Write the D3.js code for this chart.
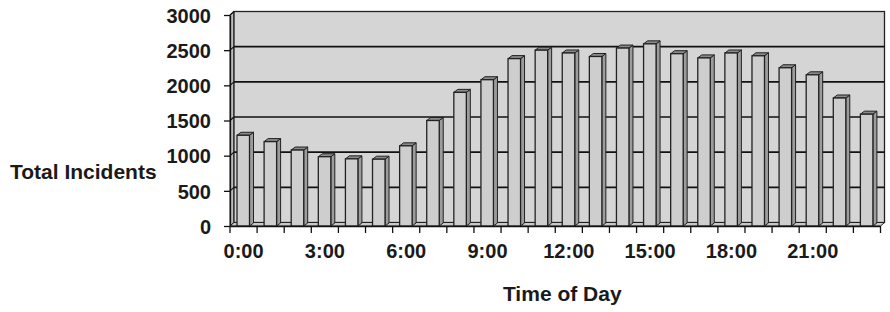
<!DOCTYPE html>
<html>
<head>
<meta charset="utf-8">
<script src="https://cdn.jsdelivr.net/npm/d3@7"></script>
<style>
  html, body { margin: 0; padding: 0; background: #fff; }
  svg text { font-family: "Liberation Sans", Arial, sans-serif; font-weight: bold; fill: #1a1a1a; }
  .axis path, .axis line { stroke: #111; stroke-width: 1.3px; }
</style>
</head>
<body>
<div id="chart"></div>
<script>
const hours = ["0:00", "1:00", "2:00", "3:00", "4:00", "5:00", "6:00", "7:00",
  "8:00", "9:00", "10:00", "11:00", "12:00", "13:00", "14:00", "15:00",
  "16:00", "17:00", "18:00", "19:00", "20:00", "21:00", "22:00", "23:00"];
const incidents = [1290, 1200, 1080, 985, 955, 950, 1140, 1500,
  1900, 2080, 2380, 2500, 2460, 2410, 2530, 2590,
  2450, 2390, 2460, 2420, 2250, 2150, 1820, 1590];
const yTicks = [0, 500, 1000, 1500, 2000, 2500, 3000];
const xLabels = ["0:00", "3:00", "6:00", "9:00", "12:00", "15:00", "18:00", "21:00"];

renderChart();

function renderChart() {
  const W = 890, H = 312;
  const left = 230, right = 880.5, top = 15, bottom = 226;
  const dx = 4, dy = -3.5;      // depth of walls
  const bdx = 4, bdy = -3;      // depth of bars

  const svg = d3.select("#chart").append("svg")
    .attr("width", W).attr("height", H);

  const x = d3.scaleBand().domain(hours).range([left, right]).padding(0);
  const y = d3.scaleLinear().domain([0, 3000]).range([bottom, top]);

  // side wall
  svg.append("polygon")
    .attr("points", [[left, bottom], [left, top], [left + dx, top + dy], [left + dx, bottom + dy]].join(" "))
    .attr("fill", "#bcbcbc").attr("stroke", "#222").attr("stroke-width", 1);

  // back wall
  svg.append("rect")
    .attr("x", left + dx).attr("y", top + dy)
    .attr("width", right - left).attr("height", bottom - top)
    .attr("fill", "#d5d5d5").attr("stroke", "#222").attr("stroke-width", 1.3);

  // floor
  svg.append("polygon")
    .attr("points", [[left, bottom], [right, bottom], [right + dx, bottom + dy], [left + dx, bottom + dy]].join(" "))
    .attr("fill", "#c9c9c9").attr("stroke", "#222").attr("stroke-width", 1);

  // gridlines on back and side wall
  const grid = svg.append("g");
  grid.selectAll("line.back")
    .data(yTicks.filter(d => d > 0 && d < 3000))
    .enter().append("line")
    .attr("x1", left + dx).attr("x2", right + dx)
    .attr("y1", d => y(d) + dy).attr("y2", d => y(d) + dy)
    .attr("stroke", "#111").attr("stroke-width", 1.6);
  grid.selectAll("line.side")
    .data(yTicks.filter(d => d > 0))
    .enter().append("line")
    .attr("x1", left).attr("x2", left + dx)
    .attr("y1", d => y(d)).attr("y2", d => y(d) + dy)
    .attr("stroke", "#111").attr("stroke-width", 1.2);

  // bars
  const bw = 12.5, off = 7;
  const bars = svg.append("g")
    .selectAll("g")
    .data(hours.map((h, i) => ({ h, v: incidents[i] })))
    .enter().append("g");

  bars.append("polygon")
    .attr("points", d => {
      const x0 = x(d.h) + off + bw, yt = y(d.v);
      return [[x0, yt], [x0 + bdx, yt + bdy], [x0 + bdx, bottom + bdy], [x0, bottom]].join(" ");
    })
    .attr("fill", "#9c9c9c").attr("stroke", "#222").attr("stroke-width", 1);

  bars.append("polygon")
    .attr("points", d => {
      const x0 = x(d.h) + off, yt = y(d.v);
      return [[x0, yt], [x0 + bw, yt], [x0 + bw + bdx, yt + bdy], [x0 + bdx, yt + bdy]].join(" ");
    })
    .attr("fill", "#8a8a8a").attr("stroke", "#222").attr("stroke-width", 1);

  bars.append("rect")
    .attr("x", d => x(d.h) + off)
    .attr("y", d => y(d.v))
    .attr("width", bw)
    .attr("height", d => bottom - y(d.v))
    .attr("fill", "#cecece").attr("stroke", "#222").attr("stroke-width", 1.3);

  // y axis
  svg.append("g")
    .attr("class", "axis")
    .attr("transform", `translate(${left},0)`)
    .call(d3.axisLeft(y).tickValues(yTicks).tickFormat(d3.format("d"))
      .tickSize(6).tickSizeOuter(0).tickPadding(13))
    .call(g => g.selectAll("text").attr("font-size", "20px").attr("dy", "0.36em"));

  // x axis: labels at centres, ticks at category boundaries
  const xAxis = svg.append("g")
    .attr("class", "axis")
    .attr("transform", `translate(0,${bottom})`)
    .call(d3.axisBottom(x).tickValues(xLabels).tickSize(0).tickSizeOuter(0).tickPadding(18))
    .call(g => g.selectAll("text").attr("font-size", "20px"));

  xAxis.selectAll("line.bound")
    .data(hours.map(h => x(h)).concat([right]))
    .enter().append("line")
    .attr("class", "bound")
    .attr("x1", d => d).attr("x2", d => d)
    .attr("y1", 0).attr("y2", 7);

  // axis titles
  svg.append("text")
    .attr("x", 10).attr("y", 179)
    .attr("font-size", "21px")
    .text("Total Incidents");

  svg.append("text")
    .attr("x", (left + right) / 2 + 7).attr("y", 301)
    .attr("text-anchor", "middle")
    .attr("font-size", "21px")
    .text("Time of Day");
}
</script>
</body>
</html>
